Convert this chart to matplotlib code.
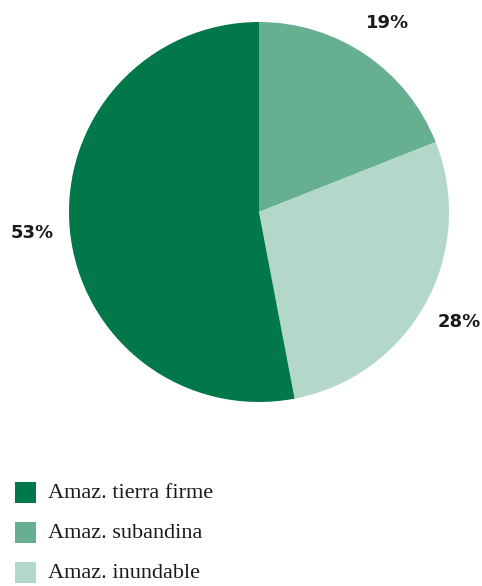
import matplotlib
matplotlib.use("Agg")
import matplotlib.pyplot as plt
from matplotlib.patches import Rectangle

categories = ["Amaz. subandina", "Amaz. inundable", "Amaz. tierra firme"]
shares = [19, 28, 53]
colors = ["#66AF91", "#B3D7C8", "#00784A"]

legend_order = ["Amaz. tierra firme", "Amaz. subandina", "Amaz. inundable"]

W, H = 482, 586
fig = plt.figure(figsize=(W / 100, H / 100), dpi=100)

# pie: centre (259, 212) px, radius 190 px
cx, cy, r = 259, 212, 190
ax = fig.add_axes([(cx - r) / W, (H - cy - r) / H, 2 * r / W, 2 * r / H])
wedges, texts, autotexts = ax.pie(
    shares, colors=colors, startangle=90, counterclock=False,
    autopct=lambda p: f"{p:.0f}%", pctdistance=1.2, radius=1,
    wedgeprops=dict(linewidth=0),
    textprops=dict(fontsize=13, fontweight="semibold", color="#1a1a1a",
                   family="DejaVu Sans"),
)
ax.set_xlim(-1, 1)
ax.set_ylim(-1, 1)
ax.set_aspect("equal")
ax.axis("off")

# legend drawn by hand
col_of = dict(zip(categories, colors))
for i, name in enumerate(legend_order):
    top = 482 + 40 * i
    fig.add_artist(Rectangle((15 / W, (H - top - 21) / H), 21 / W, 21 / H,
                             transform=fig.transFigure,
                             facecolor=col_of[name], edgecolor="none"))
    fig.text(48 / W, (H - top - 16) / H, name, fontsize=16,
             family="Liberation Serif", color="#1a1a1a", va="baseline")

fig.savefig("out.png", dpi=100)
